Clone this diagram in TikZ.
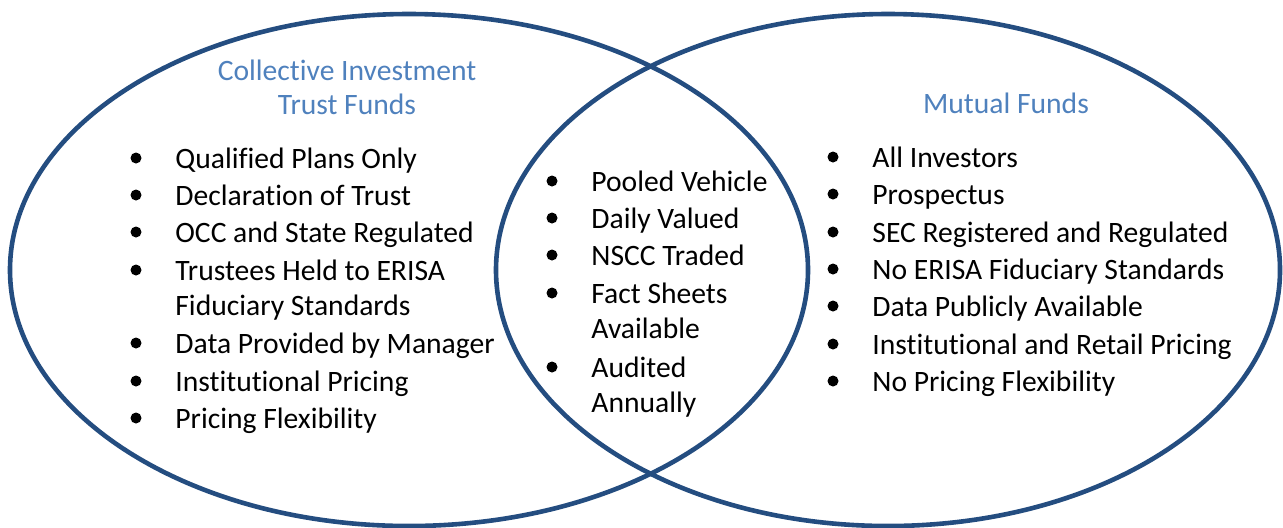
\documentclass[tikz,border=0pt]{standalone}
\usepackage{fontspec}
\setmainfont{Carlito}[Ligatures=NoCommon]
\usepackage{xcolor}
\definecolor{ringblue}{RGB}{36,77,128}
\definecolor{titleblue}{RGB}{79,129,189}

\tikzset{
    ring/.style={draw=ringblue, line width=2.3pt},
    settitle/.style={text=titleblue, align=center, inner sep=0pt, anchor=base,
        font=\fontsize{14.8}{17}\selectfont},
    entry/.style={anchor=base west, inner sep=0pt, font=\fontsize{14.8}{17}\selectfont},
}

\begin{document}
\begin{tikzpicture}[x=0.5pt, y=-0.5pt]
        \useasboundingbox (0,0) rectangle (1283,527);

        % the two sets
        \draw[ring] (409,270) ellipse [x radius=399, y radius=256];
        \draw[ring] (888,270) ellipse [x radius=392, y radius=256];

        % CIT
        \node[settitle] (cittitle) at (347,114) {Collective Investment\\Trust Funds};
        \foreach \yy/\txt/\b [count=\i] in {
            158/Qualified Plans Only/1,
            195/Declaration of Trust/1,
            232/OCC and State Regulated/1,
            270/Trustees Held to ERISA/1,
            305/Fiduciary Standards/0,
            343/Data Provided by Manager/1,
            381/Institutional Pricing/1,
            418/Pricing Flexibility/1}{
            \node[entry] (cit-\i) at (175,\yy+10) {\txt};
            \ifnum\b=1 \fill (136,\yy) circle (5.5); \fi
        }

        % both
        \foreach \yy/\txt/\b [count=\i] in {
            181/Pooled Vehicle/1,
            218/Daily Valued/1,
            255/NSCC Traded/1,
            293/Fact Sheets/1,
            328/Available/0,
            367/Audited/1,
            402/Annually/0}{
            \node[entry] (both-\i) at (591,\yy+10) {\txt};
            \ifnum\b=1 \fill (552,\yy) circle (5.5); \fi
        }

        % MF
        \node[settitle] (mftitle) at (1006,113) {Mutual Funds};
        \foreach \yy/\txt/\b [count=\i] in {
            157/All Investors/1,
            194/Prospectus/1,
            232/SEC Registered and Regulated/1,
            269/No ERISA Fiduciary Standards/1,
            306/Data Publicly Available/1,
            344/Institutional and Retail Pricing/1,
            381/No Pricing Flexibility/1}{
            \node[entry] (mf-\i) at (872,\yy+10) {\txt};
            \ifnum\b=1 \fill (833,\yy) circle (5.5); \fi
        }
\end{tikzpicture}
\end{document}
